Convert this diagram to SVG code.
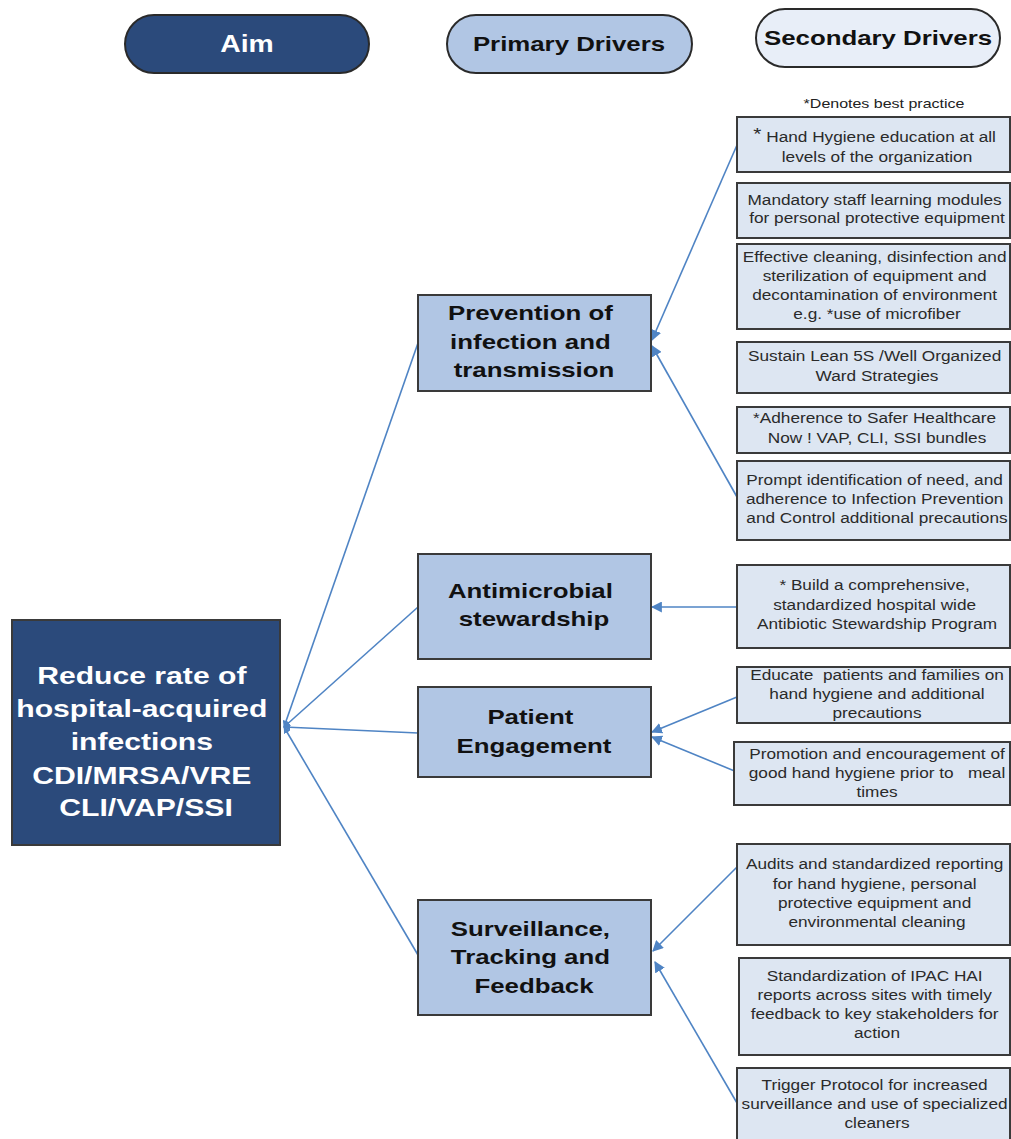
<svg xmlns="http://www.w3.org/2000/svg" width="1011" height="1139" viewBox="0 0 1011 1139">
  <style>
    .pill { stroke: #2a2a2a; stroke-width: 2; }
    .box { stroke: #3a3a3a; stroke-width: 2; }
    .aim { fill: #2b4a7b; }
    .pri { fill: #b1c6e4; }
    .sec { fill: #dde6f2; }
    .hdr { font-family: "Liberation Sans", Arial, sans-serif; font-weight: bold; font-size: 21px; text-anchor: middle; fill: #111; }
    .aimtxt { font-family: "Liberation Sans", Arial, sans-serif; font-weight: bold; font-size: 24.5px; text-anchor: middle; fill: #ffffff; }
    .pritxt { font-family: "Liberation Sans", Arial, sans-serif; font-weight: bold; font-size: 21px; text-anchor: middle; fill: #111; }
    .sectxt { font-family: "Liberation Sans", Arial, sans-serif; font-size: 14px; text-anchor: middle; fill: #2a2a2a; }
    .note { font-family: "Liberation Sans", Arial, sans-serif; font-size: 13px; text-anchor: middle; fill: #222; }
    .link { stroke: #4f84c4; stroke-width: 1.6; fill: none; }
  </style>
  <defs>
    <marker id="arrow" viewBox="0 0 10 10" refX="9" refY="5" markerWidth="11" markerHeight="11" markerUnits="userSpaceOnUse" orient="auto">
      <path d="M0,0 L10,5 L0,10 z" fill="#4f84c4"/>
    </marker>
    <marker id="arrowSmall" viewBox="0 0 10 10" refX="9" refY="5" markerWidth="7" markerHeight="7" markerUnits="userSpaceOnUse" orient="auto">
      <path d="M0,0 L10,5 L0,10 z" fill="#4f84c4"/>
    </marker>
  </defs>

  <rect width="1011" height="1139" fill="#ffffff"/>

  <!-- Column headers -->
  <g id="header-aim">
    <rect class="pill aim" x="125" y="15" width="244" height="58" rx="29"/>
    <text class="hdr" transform="matrix(1.23 0 0 1 247 52)" x="0" y="0" style="font-size:23px;fill:#ffffff">Aim</text>
  </g>
  <g id="header-primary">
    <rect class="pill pri" x="447" y="15" width="245" height="58" rx="29"/>
    <text class="hdr" transform="matrix(1.23 0 0 1 569 51)" x="0" y="0">Primary Drivers</text>
  </g>
  <g id="header-secondary">
    <rect class="pill" fill="#e8eef8" x="756" y="9" width="244" height="58" rx="29"/>
    <text class="hdr" transform="matrix(1.23 0 0 1 878 45)" x="0" y="0">Secondary Drivers</text>
  </g>
  <g id="legend">
    <text class="note" transform="matrix(1.23 0 0 1 884 108)" x="0" y="0">*Denotes best practice</text>
  </g>

  <!-- Connectors -->
  <g id="connectors">
    <!-- primary drivers to aim -->
    <line class="link" x1="418" y1="343" x2="284" y2="727" marker-end="url(#arrowSmall)"/>
    <line class="link" x1="418" y1="607" x2="284" y2="727" marker-end="url(#arrowSmall)"/>
    <line class="link" x1="418" y1="733" x2="284" y2="727" marker-end="url(#arrowSmall)"/>
    <line class="link" x1="418" y1="955" x2="284" y2="727" marker-end="url(#arrowSmall)"/>
    <!-- secondary drivers to primary drivers -->
    <line class="link" x1="737" y1="145" x2="652" y2="340" marker-end="url(#arrow)"/>
    <line class="link" x1="737" y1="497" x2="652" y2="346" marker-end="url(#arrow)"/>
    <line class="link" x1="737" y1="607" x2="652" y2="607" marker-end="url(#arrow)"/>
    <line class="link" x1="737" y1="697" x2="652" y2="732" marker-end="url(#arrow)"/>
    <line class="link" x1="737" y1="772" x2="652" y2="737" marker-end="url(#arrow)"/>
    <line class="link" x1="737" y1="867" x2="653" y2="951" marker-end="url(#arrow)"/>
    <line class="link" x1="737" y1="1103" x2="655" y2="962" marker-end="url(#arrow)"/>
  </g>

  <!-- Aim -->
  <g id="aim">
    <rect class="box aim" x="12" y="620" width="268" height="225"/>
    <text class="aimtxt" transform="matrix(1.23 0 0 1 146 0)">
      <tspan x="0" y="684">Reduce rate of</tspan>
      <tspan x="0" y="717">hospital-acquired</tspan>
      <tspan x="0" y="750">infections</tspan>
      <tspan x="0" y="784">CDI/MRSA/VRE</tspan>
      <tspan x="0" y="816">CLI/VAP/SSI</tspan>
    </text>
  </g>

  <!-- Primary drivers -->
  <g id="primary-prevention">
    <rect class="box pri" x="418" y="295" width="233" height="96"/>
    <text class="pritxt" transform="matrix(1.23 0 0 1 534 0)">
      <tspan x="0" y="320">Prevention of</tspan>
      <tspan x="0" y="349">infection and</tspan>
      <tspan x="0" y="377">transmission</tspan>
    </text>
  </g>
  <g id="primary-antimicrobial">
    <rect class="box pri" x="418" y="554" width="233" height="105"/>
    <text class="pritxt" transform="matrix(1.23 0 0 1 534 0)">
      <tspan x="0" y="598">Antimicrobial</tspan>
      <tspan x="0" y="626">stewardship</tspan>
    </text>
  </g>
  <g id="primary-engagement">
    <rect class="box pri" x="418" y="687" width="233" height="90"/>
    <text class="pritxt" transform="matrix(1.23 0 0 1 534 0)">
      <tspan x="0" y="724">Patient</tspan>
      <tspan x="0" y="753">Engagement</tspan>
    </text>
  </g>
  <g id="primary-surveillance">
    <rect class="box pri" x="418" y="900" width="233" height="115"/>
    <text class="pritxt" transform="matrix(1.23 0 0 1 534 0)">
      <tspan x="0" y="936">Surveillance,</tspan>
      <tspan x="0" y="964">Tracking and</tspan>
      <tspan x="0" y="993">Feedback</tspan>
    </text>
  </g>

  <!-- Secondary drivers -->
  <g id="secondary-hand-hygiene">
    <rect class="box sec" x="737" y="117" width="273" height="55"/>
    <text class="sectxt" transform="matrix(1.23 0 0 1 877 0)">
      <tspan x="0" y="142"><tspan font-size="17" dy="-2">*</tspan><tspan dy="2"> Hand Hygiene education at all</tspan></tspan>
      <tspan x="0" y="162">levels of the organization</tspan>
    </text>
  </g>
  <g id="secondary-ppe-modules">
    <rect class="box sec" x="737" y="183" width="273" height="55"/>
    <text class="sectxt" transform="matrix(1.23 0 0 1 877 0)">
      <tspan x="0" y="205">Mandatory staff learning modules</tspan>
      <tspan x="0" y="223">for personal protective equipment</tspan>
    </text>
  </g>
  <g id="secondary-cleaning">
    <rect class="box sec" x="737" y="244" width="273" height="85"/>
    <text class="sectxt" transform="matrix(1.23 0 0 1 877 0)">
      <tspan x="0" y="262">Effective cleaning, disinfection and</tspan>
      <tspan x="0" y="281">sterilization of equipment and</tspan>
      <tspan x="0" y="300">decontamination of environment</tspan>
      <tspan x="0" y="319">e.g. *use of microfiber</tspan>
    </text>
  </g>
  <g id="secondary-lean-5s">
    <rect class="box sec" x="737" y="342" width="273" height="51"/>
    <text class="sectxt" transform="matrix(1.23 0 0 1 877 0)">
      <tspan x="0" y="361">Sustain Lean 5S /Well Organized</tspan>
      <tspan x="0" y="381">Ward Strategies</tspan>
    </text>
  </g>
  <g id="secondary-bundles">
    <rect class="box sec" x="737" y="407" width="273" height="46"/>
    <text class="sectxt" transform="matrix(1.23 0 0 1 877 0)">
      <tspan x="0" y="423">*Adherence to Safer Healthcare</tspan>
      <tspan x="0" y="443">Now ! VAP, CLI, SSI bundles</tspan>
    </text>
  </g>
  <g id="secondary-precautions">
    <rect class="box sec" x="737" y="461" width="273" height="79"/>
    <text class="sectxt" transform="matrix(1.23 0 0 1 877 0)">
      <tspan x="0" y="485">Prompt identification of need, and</tspan>
      <tspan x="0" y="504">adherence to Infection Prevention</tspan>
      <tspan x="0" y="523">and Control additional precautions</tspan>
    </text>
  </g>
  <g id="secondary-antibiotic-program">
    <rect class="box sec" x="737" y="565" width="273" height="83"/>
    <text class="sectxt" transform="matrix(1.23 0 0 1 877 0)">
      <tspan x="0" y="590">* Build a comprehensive,</tspan>
      <tspan x="0" y="610">standardized hospital wide</tspan>
      <tspan x="0" y="629">Antibiotic Stewardship Program</tspan>
    </text>
  </g>
  <g id="secondary-educate-patients">
    <rect class="box sec" x="737" y="667" width="273" height="56"/>
    <text class="sectxt" transform="matrix(1.23 0 0 1 877 0)" xml:space="preserve"><tspan x="0" y="680">Educate  patients and families on</tspan><tspan x="0" y="699">hand hygiene and additional</tspan><tspan x="0" y="718">precautions</tspan></text>
  </g>
  <g id="secondary-meal-times">
    <rect class="box sec" x="734" y="742" width="276" height="63"/>
    <text class="sectxt" transform="matrix(1.23 0 0 1 877 0)" xml:space="preserve"><tspan x="0" y="759">Promotion and encouragement of</tspan><tspan x="0" y="778">good hand hygiene prior to   meal</tspan><tspan x="0" y="797">times</tspan></text>
  </g>
  <g id="secondary-audits">
    <rect class="box sec" x="737" y="844" width="273" height="101"/>
    <text class="sectxt" transform="matrix(1.23 0 0 1 877 0)">
      <tspan x="0" y="869">Audits and standardized reporting</tspan>
      <tspan x="0" y="889">for hand hygiene, personal</tspan>
      <tspan x="0" y="908">protective equipment and</tspan>
      <tspan x="0" y="927">environmental cleaning</tspan>
    </text>
  </g>
  <g id="secondary-hai-reports">
    <rect class="box sec" x="739" y="958" width="271" height="97"/>
    <text class="sectxt" transform="matrix(1.23 0 0 1 877 0)">
      <tspan x="0" y="981">Standardization of IPAC HAI</tspan>
      <tspan x="0" y="1000">reports across sites with timely</tspan>
      <tspan x="0" y="1019">feedback to key stakeholders for</tspan>
      <tspan x="0" y="1038">action</tspan>
    </text>
  </g>
  <g id="secondary-trigger-protocol">
    <rect class="box sec" x="737" y="1068" width="273" height="80"/>
    <text class="sectxt" transform="matrix(1.23 0 0 1 877 0)">
      <tspan x="0" y="1090">Trigger Protocol for increased</tspan>
      <tspan x="0" y="1109">surveillance and use of specialized</tspan>
      <tspan x="0" y="1128">cleaners</tspan>
    </text>
  </g>
</svg>
